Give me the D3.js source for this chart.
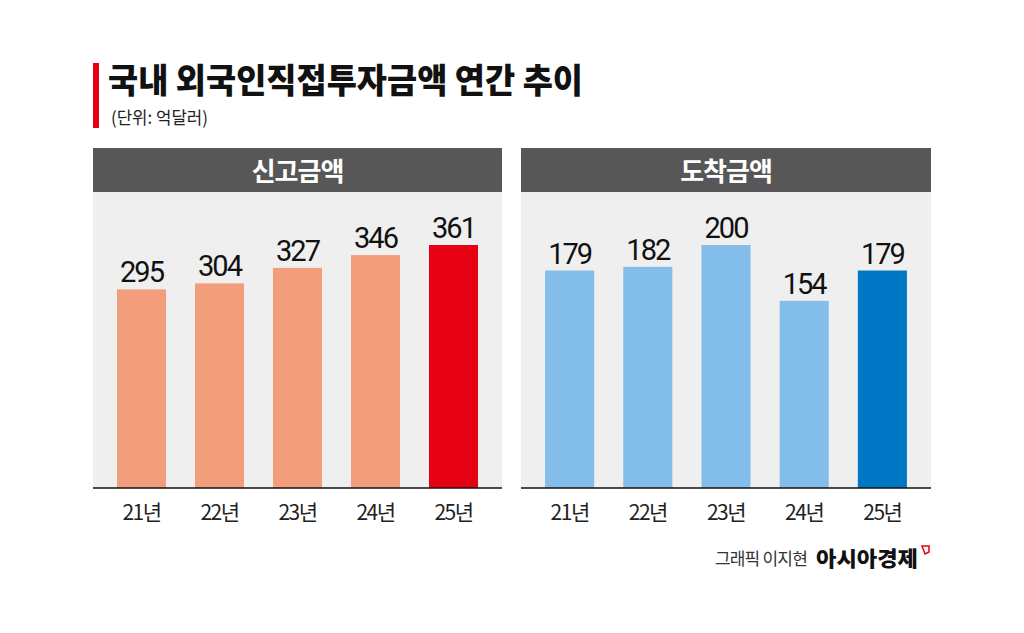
<!DOCTYPE html>
<html><head><meta charset="utf-8">
<script src="https://cdn.jsdelivr.net/npm/d3@7"></script>
<style>body{margin:0;background:#fff}svg{display:block}</style>
</head><body>
<script>
const title = "국내 외국인직접투자금액 연간 추이";
const unitLabel = "(단위: 억달러)";
const years = ["21년","22년","23년","24년","25년"];
const reportedTitle = "신고금액";
const reportedValues = [295,304,327,346,361];
const arrivedTitle = "도착금액";
const arrivedValues = [179,182,200,154,179];
const creditText = "그래픽 이지현";
const brandText = "아시아경제";

const W=1024,H=633;
const svg=d3.select("body").append("svg").attr("width",W).attr("height",H);
svg.append("rect").attr("width",W).attr("height",H).attr("fill","#fff");
const KR="'Noto Sans CJK KR','Noto Sans',sans-serif";

svg.append("rect").attr("x",93).attr("y",63).attr("width",6).attr("height",65).attr("fill","#e60012");
svg.append("text").attr("x",108).attr("y",93).text(title)
 .attr("font-family",KR).attr("font-weight",900).attr("font-size",34).attr("fill","#111")
 .attr("textLength",475).attr("lengthAdjust","spacingAndGlyphs");
svg.append("text").attr("x",111).attr("y",124).text(unitLabel)
 .attr("font-family",KR).attr("font-size",17.5).attr("fill","#222")
 .attr("textLength",97).attr("lengthAdjust","spacingAndGlyphs");

const baseY=488, topY=245;
function panel(x0,x1,name,values,color,hiColor){
  const g=svg.append("g");
  g.append("rect").attr("x",x0).attr("y",148).attr("width",x1-x0).attr("height",44).attr("fill","#575757");
  g.append("rect").attr("x",x0).attr("y",192).attr("width",x1-x0).attr("height",baseY-192).attr("fill","#efefef");
  g.append("text").attr("x",(x0+x1)/2).attr("y",181).attr("text-anchor","middle").text(name)
   .attr("font-family",KR).attr("font-weight",700).attr("font-size",26).attr("fill","#fff").attr("letter-spacing",-1);
  const x=d3.scaleBand().domain(years).range([x0,x1]).paddingInner(0.372).paddingOuter(0.308);
  const y=d3.scaleLinear().domain([0,d3.max(values)]).range([baseY,topY]);
  g.selectAll(".bar").data(values).join("rect")
   .attr("x",(d,i)=>x(years[i])).attr("y",d=>y(d)).attr("width",x.bandwidth()).attr("height",d=>baseY-y(d))
   .attr("fill",(d,i)=>i===values.length-1?hiColor:color);
  g.selectAll(".val").data(values).join("text")
   .attr("x",(d,i)=>x(years[i])+x.bandwidth()/2).attr("y",d=>y(d)-7).attr("text-anchor","middle")
   .text(d=>d).attr("font-family","Roboto,sans-serif").attr("font-weight",400).attr("font-size",29).attr("fill","#111").attr("letter-spacing",-2);
  g.append("line").attr("x1",x0).attr("x2",x1).attr("y1",baseY).attr("y2",baseY).attr("stroke","#111").attr("stroke-width",1.5);
  const ax=d3.axisBottom(x).tickSize(0).tickPadding(0);
  const axg=g.append("g").attr("transform",`translate(0,${baseY})`).call(ax);
  axg.select(".domain").remove();
  axg.selectAll("text").attr("y",32).attr("dy",0).attr("font-family",KR).attr("font-size",21).attr("fill","#222").attr("letter-spacing",-1.5);
}
panel(93,502,reportedTitle,reportedValues,"#f29d7b","#e50012");
panel(521,931,arrivedTitle,arrivedValues,"#82bee9","#0077c4");

svg.append("text").attr("x",807).attr("y",565).attr("text-anchor","end").text(creditText)
 .attr("font-family",KR).attr("font-size",17).attr("fill","#333").attr("letter-spacing",-0.8);
svg.append("text").attr("x",816).attr("y",566).text(brandText)
 .attr("font-family",KR).attr("font-weight",900).attr("font-size",21).attr("fill","#111")
 .attr("textLength",102).attr("lengthAdjust","spacingAndGlyphs");
svg.append("path").attr("d","M922,546 L929,546 L929,552 L925,554 Z").attr("fill","none").attr("stroke","#e60012").attr("stroke-width",1.5);
</script>
</body></html>
